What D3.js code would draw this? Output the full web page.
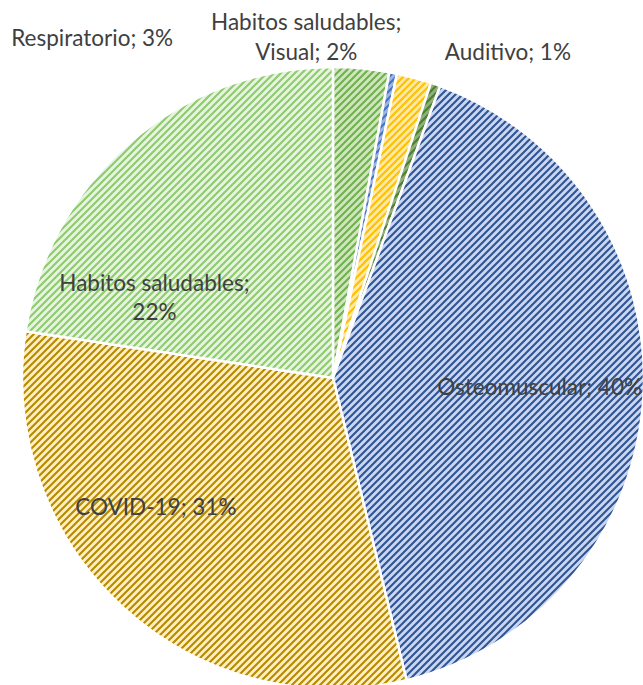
<!DOCTYPE html>
<html>
<head>
<meta charset="utf-8">
<script src="https://cdn.jsdelivr.net/npm/d3@7"></script>
<style>
  body { margin: 0; background: #fff; }
  text { font-family: Lato, "Open Sans", sans-serif; fill: #404040; }
</style>
</head>
<body>
<div id="content"></div>
<script>
// slices, clockwise from 12 o'clock
var categories = ["Respiratorio", "Habitos saludables", "Visual", "Auditivo", "Osteomuscular", "COVID-19", "Habitos saludables"];
var values = [2.9, 0.4, 1.8, 0.5, 40.6, 31.2, 22.6];
var labels = [
	["Respiratorio; 3%"],
	["Habitos saludables;"],
	["Visual; 2%"],
	["Auditivo; 1%"],
	["Osteomuscular; 40%"],
	["COVID-19; 31%"],
	["Habitos saludables;", "22%"]
];

// fill colours: background, stripe
var fills = [
	["#cfe6c0", "#6fb24a"],
	["#9db4e0", "#4472c4"],
	["#ffe9a6", "#ffc000"],
	["#8fb07a", "#4e7f31"],
	["#cad7f0", "#2f5597"],
	["#fff0c2", "#b88a00"],
	["#e8f4e1", "#8ccc6c"]
];

var W = 643, H = 685;
var cx = 333, cy = 378, r = 311;

// label anchor [angle in degrees clockwise from top, distance / radius]
var labelSpots = [
	[-35.3, 1.34],
	[-4.3, 1.148],
	[-4.7, 1.052],
	[28.2, 1.19],
	[92.5, 0.665],
	[233.9, 0.705],
	[294.3, 0.63]
];

var svg = d3.select("#content").append("svg")
	.attr("width", W).attr("height", H);

var defs = svg.append("defs");
fills.forEach(function (f, i) {
	var p = defs.append("pattern")
		.attr("id", "hatch" + i)
		.attr("patternUnits", "userSpaceOnUse")
		.attr("width", 7).attr("height", 7);
	p.append("rect").attr("width", 7).attr("height", 7).attr("fill", f[0]);
	p.append("path")
		.attr("d", "M-1,1 l2,-2 M0,7 l7,-7 M6,8 l2,-2")
		.attr("stroke", f[1]).attr("stroke-width", 2.1);
});

var pie = d3.pie().sort(null).value(function (d) { return d; });
var arc = d3.arc().innerRadius(0).outerRadius(r);

var g = svg.append("g").attr("transform", "translate(" + cx + "," + cy + ")");

g.selectAll("path.slice")
	.data(pie(values))
	.enter()
	.append("path")
	.attr("class", "slice")
	.attr("d", arc)
	.attr("fill", function (d, i) { return "url(#hatch" + i + ")"; })
	.attr("stroke", "#fff")
	.attr("stroke-width", 2.5)
	.attr("stroke-linejoin", "round");

// labels
var fs = 22.5, lh = 29;
labels.forEach(function (lines, i) {
	var s = labelSpots[i];
	var pt = d3.pointRadial(s[0] * Math.PI / 180, s[1] * r);
	var t = g.append("text")
		.attr("text-anchor", "middle")
		.attr("font-size", fs);
	var y0 = pt[1] - (lines.length - 1) * lh / 2;
	lines.forEach(function (line, j) {
		t.append("tspan")
			.attr("x", pt[0])
			.attr("y", y0 + j * lh)
			.attr("dy", "0.35em")
			.text(line);
	});
});
</script>
</body>
</html>
